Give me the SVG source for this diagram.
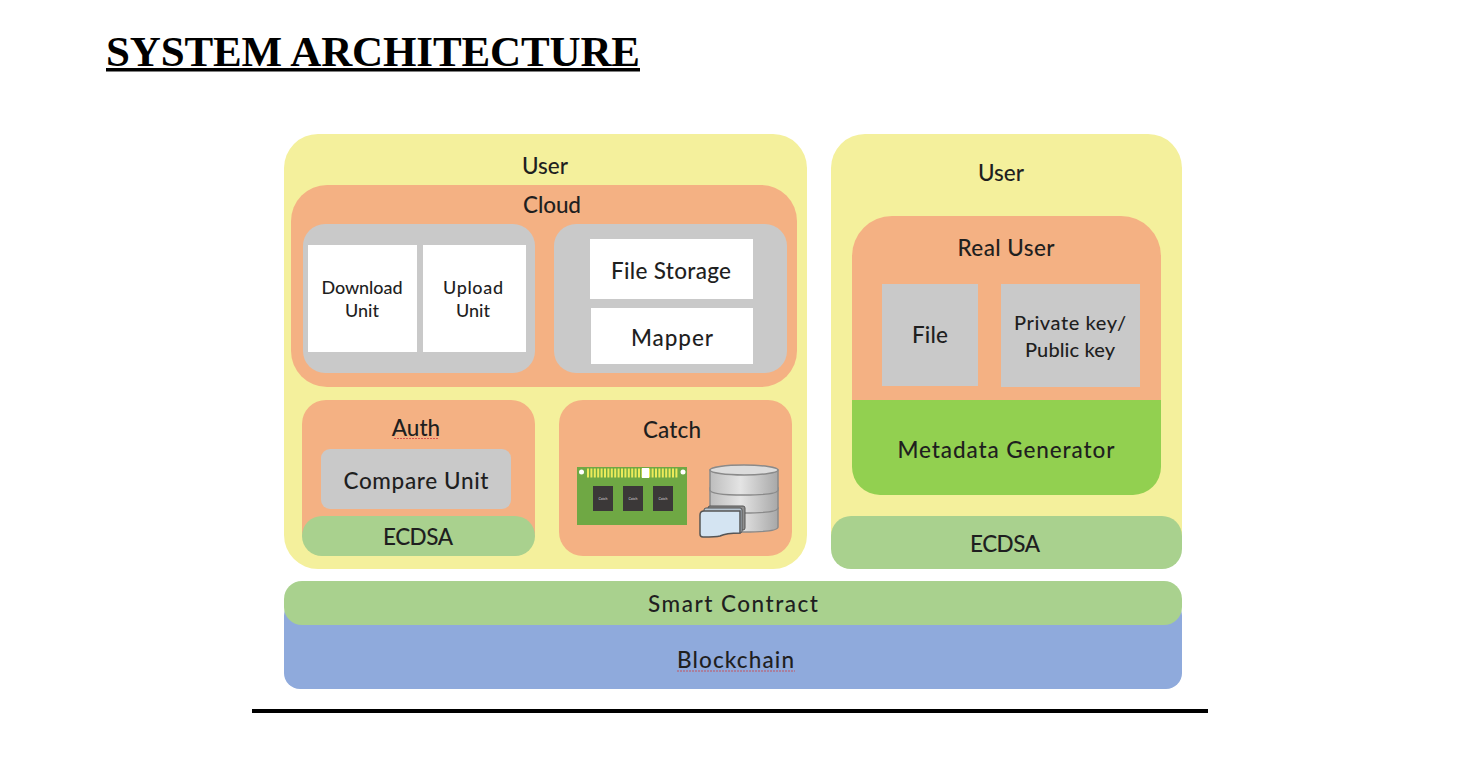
<svg xmlns="http://www.w3.org/2000/svg" width="1473" height="762" viewBox="0 0 1473 762">
<style>
.l{font-family:Lato,"Noto Sans","Liberation Sans",sans-serif;fill:#1f1f1f;text-anchor:middle;font-size:22.500px;font-weight:500;transform:translateY(.7px)}
.m{font-size:18px}
.y{fill:#f4f09c}.o{fill:#f4b183}.g{fill:#c9c9c9}.w{fill:#fff}.n{fill:#a9d18e}
.chip{fill:#3b3838}
.ct{font-family:Lato,"Liberation Sans",sans-serif;font-size:3.500px;fill:#ddd;text-anchor:middle}
.db{fill:url(#dbg);stroke:#8a8a8a;stroke-width:1.500}
.dbt{fill:#dcdcdc;stroke:#8a8a8a;stroke-width:1.500}
.sq{stroke:#ecea5a;stroke-width:9;stroke-dasharray:2 1.400}
.sp{stroke:#d04040;stroke-width:.8;fill:none;stroke-dasharray:2 1}
</style>
<defs>
<linearGradient id="dbg" x1="0" x2="1" y1="0" y2="0">
<stop offset="0" stop-color="#bdbdbd"/><stop offset=".45" stop-color="#e4e4e4"/><stop offset="1" stop-color="#a8a8a8"/>
</linearGradient>
</defs>
<rect width="1473" height="762" fill="#fff"/>
<g id="title">
<text x="106" y="66" font-family="'Liberation Serif',serif" font-weight="700" font-size="43px" fill="#000" textLength="534" lengthAdjust="spacing">SYSTEM ARCHITECTURE</text>
<rect x="106" y="68" width="534" height="3.500" fill="#000"/>
</g>
<g id="user-left">
<rect class="y" x="284" y="134" width="523" height="435" rx="34"/>
<text class="l" x="545" y="173">User</text>
</g>
<g id="cloud">
<rect class="o" x="291" y="185" width="506" height="202" rx="36"/>
<text class="l" x="552" y="212" textLength="58">Cloud</text>
</g>
<g id="units-panel">
<rect class="g" x="303" y="224" width="232" height="149" rx="22"/>
</g>
<g id="download-unit">
<rect class="w" x="308" y="245" width="109" height="107"/>
<text class="l m" x="362" y="293" textLength="81">Download</text>
<text class="l m" x="362" y="316">Unit</text>
</g>
<g id="upload-unit">
<rect class="w" x="423" y="245" width="103" height="107"/>
<text class="l m" x="473" y="293" textLength="60">Upload</text>
<text class="l m" x="473" y="316">Unit</text>
</g>
<g id="storage-panel">
<rect class="g" x="554" y="224" width="233" height="149" rx="22"/>
</g>
<g id="file-storage">
<rect class="w" x="590" y="239" width="163" height="60"/>
<text class="l" x="671" y="278" textLength="120">File Storage</text>
</g>
<g id="mapper">
<rect class="w" x="591" y="308" width="162" height="56"/>
<text class="l" x="672" y="345" textLength="82">Mapper</text>
</g>
<g id="auth">
<rect class="o" x="302" y="400" width="233" height="156" rx="24"/>
<text class="l" x="416" y="435">Auth</text>
<path class="sp" d="M394 438.500h45"/>
</g>
<g id="compare-unit">
<rect class="g" x="321" y="449" width="190" height="60" rx="9"/>
<text class="l" x="416" y="488" textLength="145">Compare Unit</text>
</g>
<g id="ecdsa-left">
<rect class="n" x="302" y="516" width="233" height="40" rx="20"/>
<text class="l" x="418" y="544" textLength="70">ECDSA</text>
</g>
<g id="catch">
<rect class="o" x="559" y="400" width="233" height="156" rx="24"/>
<text class="l" x="672" y="437" textLength="58">Catch</text>
<rect x="577" y="467" width="110" height="58" fill="#6fa844"/>
<path class="sq" d="M587 473H678" fill="none"/>
<rect x="642" y="468" width="7" height="10" fill="#fff"/>
<circle cx="581.500" cy="472" r="2.500" fill="#fff"/>
<circle cx="683" cy="472" r="2.500" fill="#fff"/>
<rect class="chip" x="593" y="486" width="20" height="25"/>
<rect class="chip" x="623" y="486" width="20" height="25"/>
<rect class="chip" x="653" y="486" width="20" height="25"/>
<text class="ct" x="603" y="500">Catch</text>
<text class="ct" x="633" y="500">Catch</text>
<text class="ct" x="663" y="500">Catch</text>
<path class="db" d="M710 508v19q0 5 34 5t34-5v-19z"/>
<path class="db" d="M710 488v20q0 5 34 5t34-5v-20z"/>
<path class="db" d="M710 470v20q0 5 34 5t34-5v-20z"/>
<ellipse class="dbt" cx="744" cy="470" rx="34" ry="5"/>
<rect x="708" y="506" width="37" height="24" rx="2" fill="#8f8f8f" stroke="#555" stroke-width="1"/>
<rect x="704" y="508" width="38" height="25" rx="2" fill="#b8c6d2" stroke="#555" stroke-width="1"/>
<path d="M700 515q0-4 4-4h36v22q-14 0-20 3q-4 1-17 1q-3 0-3-3z" fill="#d4e4f2" stroke="#555" stroke-width="1.500"/>
</g>
<g id="user-right">
<rect class="y" x="831" y="134" width="351" height="435" rx="34"/>
<text class="l" x="1001" y="180">User</text>
</g>
<g id="real-user">
<path class="o" d="M852 400V256a40 40 0 0 1 40-40H1121a40 40 0 0 1 40 40V400z"/>
<text class="l" x="1006" y="255" textLength="97">Real User</text>
</g>
<g id="file">
<rect class="g" x="882" y="284" width="96" height="102"/>
<text class="l" x="930" y="342" textLength="36">File</text>
</g>
<g id="keys">
<rect class="g" x="1001" y="284" width="139" height="103"/>
<text class="l" style="font-size:20px" x="1070" y="329" textLength="112">Private key/</text>
<text class="l" style="font-size:20px" x="1070" y="356" textLength="90">Public key</text>
</g>
<g id="metadata-generator">
<path fill="#92d050" d="M852 400H1161V467a28 28 0 0 1-28 28H880a28 28 0 0 1-28-28z"/>
<text class="l" x="1006" y="457" textLength="217">Metadata Generator</text>
</g>
<g id="ecdsa-right">
<rect class="n" x="831" y="516" width="351" height="53" rx="20"/>
<text class="l" x="1005" y="551" textLength="70">ECDSA</text>
</g>
<g id="blockchain">
<rect fill="#8faadc" x="284" y="600" width="898" height="89" rx="16"/>
<text class="l" x="735.500" y="667" textLength="117">Blockchain</text>
<path class="sp" d="M677 671h118"/>
</g>
<g id="smart-contract">
<rect class="n" x="284" y="581" width="898" height="44" rx="18"/>
<text class="l" x="733" y="611" textLength="170">Smart Contract</text>
</g>
<g id="connectors"></g>
<rect x="252" y="709" width="956" height="4" fill="#000"/>
</svg>
